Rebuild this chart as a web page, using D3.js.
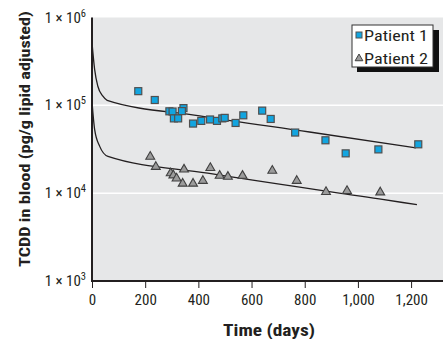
<!DOCTYPE html>
<html>
<head>
<meta charset="utf-8">
<script src="https://cdn.jsdelivr.net/npm/d3@7"></script>
<style>
  body { margin: 0; background: #fff; }
  svg { display: block; }
  .narrow { font-family: "Liberation Sans Narrow", "Roboto Condensed", "DejaVu Sans Condensed", "Liberation Sans", sans-serif; }
</style>
</head>
<body>
<div id="chart"></div>
<script>
// patient 1 measurements (days, pg/g lipid adjusted)
const p1Days = [174, 236, 291, 303, 344, 338, 308, 324, 380, 411, 444, 470, 490, 499, 540, 569, 640, 672, 764, 878, 954, 1077, 1227];
const p1Conc = [145000, 115000, 85500, 85000, 93000, 86000, 71000, 71000, 62000, 66500, 69000, 66500, 71000, 72000, 63000, 77000, 87000, 70000, 49000, 40000, 28400, 31500, 36000];

// patient 2 measurements
const p2Days = [219, 240, 296, 306, 318, 346, 341, 380, 417, 445, 480, 511, 566, 678, 770, 880, 959, 1084];
const p2Conc = [26700, 20500, 17300, 16400, 15100, 19100, 13200, 13200, 14200, 19900, 16200, 15800, 16200, 18500, 14200, 10600, 10900, 10500];

// fitted elimination curves
const fit1Days = [0, 10, 22, 41, 57, 405, 818, 1218];
const fit1Conc = [514000, 255000, 165000, 127000, 114000, 76000, 49700, 32700];
const fit2Days = [0, 10, 29, 60, 435, 1080, 1222];
const fit2Conc = [110000, 53000, 34100, 26200, 16900, 8600, 7400];

const xTicks = [0, 200, 400, 600, 800, 1000, 1200];
const yTicks = [1e3, 1e4, 1e5, 1e6];
const yExponents = [3, 4, 5, 6];
const gridValues = [1e4, 1e5];
const legendLabels = ["Patient 1", "Patient 2"];

const width = 443, height = 339;
const plotLeft = 92, plotTop = 17.5, plotRight = 443, plotBottom = 281;

const svg = d3.select("#chart").append("svg")
  .attr("width", width)
  .attr("height", height);

const x = d3.scaleLinear().domain([0, 1320]).range([plotLeft, plotRight]);
const y = d3.scaleLog().domain([1e3, 1e6]).range([plotBottom, plotTop]);

// plot background
svg.append("rect")
  .attr("x", plotLeft).attr("y", plotTop)
  .attr("width", plotRight - plotLeft).attr("height", plotBottom - plotTop)
  .attr("fill", "#e6e7e8");

// white gridlines
svg.append("g").selectAll("line")
  .data(gridValues)
  .join("line")
  .attr("x1", plotLeft).attr("x2", plotRight)
  .attr("y1", d => y(d)).attr("y2", d => y(d))
  .attr("stroke", "#fff")
  .attr("stroke-width", 1.5);

// fitted curves
const line = d3.line()
  .x(d => x(d[0]))
  .y(d => y(d[1]))
  .curve(d3.curveMonotoneX);

[[fit1Days, fit1Conc], [fit2Days, fit2Conc]].forEach(([days, conc]) => {
  svg.append("path")
    .datum(days.map((d, i) => [d, conc[i]]))
    .attr("d", line)
    .attr("fill", "none")
    .attr("stroke", "#231f20")
    .attr("stroke-width", 1.3);
});

// markers
const sq = 7;
const tri = d3.symbol().type(d3.symbolTriangle).size(34);

svg.append("g").selectAll("rect")
  .data(p1Days.map((d, i) => [d, p1Conc[i]]))
  .join("rect")
  .attr("x", d => x(d[0]) - sq / 2)
  .attr("y", d => y(d[1]) - sq / 2)
  .attr("width", sq).attr("height", sq)
  .attr("fill", "#12a5e0")
  .attr("stroke", "#505050")
  .attr("stroke-width", 1.2);

svg.append("g").selectAll("path")
  .data(p2Days.map((d, i) => [d, p2Conc[i]]))
  .join("path")
  .attr("d", tri)
  .attr("transform", d => `translate(${x(d[0])},${y(d[1]) + 1})`)
  .attr("fill", "#9b9b9b")
  .attr("stroke", "#404040")
  .attr("stroke-width", 1.1);

// axes
const xAxis = svg.append("g")
  .attr("class", "narrow")
  .attr("transform", `translate(0,${plotBottom})`)
  .call(d3.axisBottom(x)
    .tickValues(xTicks)
    .tickSize(7)
    .tickPadding(6)
    .tickFormat(d3.format(",")));
xAxis.select(".domain").remove();
xAxis.attr("font-family", null);
xAxis.selectAll(".tick line").attr("stroke", "#231f20").attr("stroke-width", 1);
xAxis.selectAll(".tick text")
  .attr("font-size", 15)
  .attr("fill", "#231f20");
xAxis.attr("font-size", 15);

svg.append("line")
  .attr("x1", plotLeft).attr("x2", plotRight)
  .attr("y1", plotBottom).attr("y2", plotBottom)
  .attr("stroke", "#231f20").attr("stroke-width", 2);
svg.append("line")
  .attr("x1", plotLeft).attr("x2", plotLeft)
  .attr("y1", plotTop).attr("y2", plotBottom + 1)
  .attr("stroke", "#231f20").attr("stroke-width", 2);

// y tick labels: 1 x 10^n
const yLab = svg.append("g").attr("class", "narrow")
  .selectAll("text")
  .data(yTicks)
  .join("text")
  .attr("x", 86)
  .attr("y", d => y(d) + 5)
  .attr("text-anchor", "end")
  .attr("font-size", 15)
  .attr("fill", "#231f20");
yLab.append("tspan").text("1 \u00d7 10");
yLab.append("tspan")
  .attr("dy", -6)
  .attr("font-size", 10.5)
  .text((d, i) => yExponents[i]);

// axis titles
svg.append("text")
  .attr("class", "narrow")
  .attr("transform", "translate(30,139) rotate(-90)")
  .attr("text-anchor", "middle")
  .attr("font-size", 15)
  .attr("font-weight", "bold")
  .attr("fill", "#231f20")
  .attr("textLength", 256)
  .attr("lengthAdjust", "spacingAndGlyphs")
  .text("TCDD in blood (pg/g lipid adjusted)");

svg.append("text")
  .attr("class", "narrow")
  .attr("x", 269).attr("y", 336)
  .attr("text-anchor", "middle")
  .attr("font-size", 17)
  .attr("font-weight", "bold")
  .attr("fill", "#231f20")
  .attr("textLength", 92)
  .attr("lengthAdjust", "spacingAndGlyphs")
  .text("Time (days)");

// legend
const legend = svg.append("g").attr("class", "narrow");
legend.append("rect")
  .attr("x", 357).attr("y", 30)
  .attr("width", 82).attr("height", 42)
  .attr("fill", "#111");
legend.append("rect")
  .attr("x", 352).attr("y", 25)
  .attr("width", 81).attr("height", 42)
  .attr("fill", "#fff")
  .attr("stroke", "#333")
  .attr("stroke-width", 1);

const rows = legend.selectAll("g.row")
  .data(legendLabels)
  .join("g")
  .attr("class", "row")
  .attr("transform", (d, i) => `translate(0,${35 + i * 23})`);
rows.filter((d, i) => i === 0).append("rect")
  .attr("x", 356).attr("y", -3)
  .attr("width", 6).attr("height", 6)
  .attr("fill", "#12a5e0")
  .attr("stroke", "#505050")
  .attr("stroke-width", 1);
rows.filter((d, i) => i === 1).append("path")
  .attr("d", d3.symbol().type(d3.symbolTriangle).size(26))
  .attr("transform", "translate(359,0.5)")
  .attr("fill", "#9b9b9b")
  .attr("stroke", "#404040")
  .attr("stroke-width", 1);
rows.append("text")
  .attr("x", 364).attr("y", 5.5)
  .attr("font-size", 15)
  .attr("fill", "#231f20")
  .attr("textLength", 64)
  .attr("lengthAdjust", "spacingAndGlyphs")
  .text(d => d);
</script>
</body>
</html>
